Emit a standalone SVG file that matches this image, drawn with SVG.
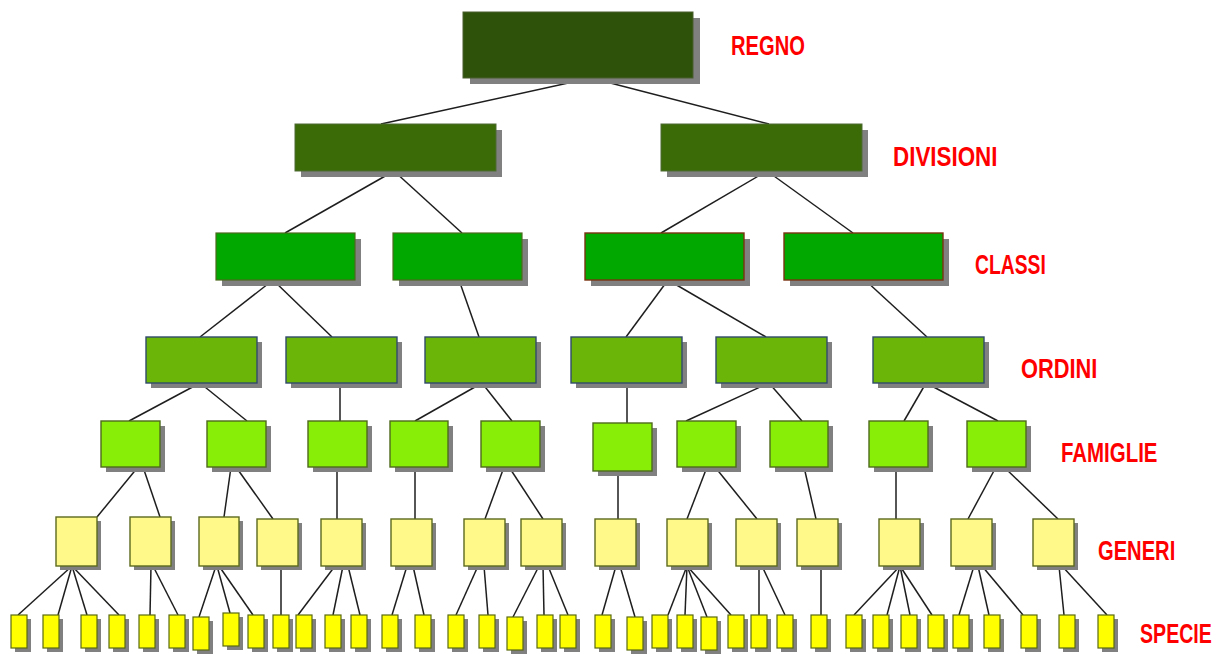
<svg xmlns="http://www.w3.org/2000/svg" width="1222" height="654" viewBox="0 0 1222 654">
  <style>
    .sh { fill: #808080; }
    .l0 { fill: #2f520a; stroke: #4a5e30; stroke-width: 1; }
    .l1 { fill: #3a6b07; stroke: #4f6a34; stroke-width: 1; }
    .l2 { fill: #00a800; stroke: #4e6a1e; stroke-width: 1.2; }
    .l2b { fill: #00a800; stroke: #7a3212; stroke-width: 1.4; }
    .l3 { fill: #6bb408; stroke: #2f4a6a; stroke-width: 1.4; }
    .l4 { fill: #88ee08; stroke: #4e6a1c; stroke-width: 1.4; }
    .l5 { fill: #fff98a; stroke: #5c6a1e; stroke-width: 1.4; }
    .l6 { fill: #ffff00; stroke: #5a6a10; stroke-width: 1.2; }
    #connectors line { stroke: #1e1e1e; stroke-width: 1.5; }
    .lbl { font-family: "Liberation Sans", Arial, sans-serif; font-weight: bold; font-size: 28px; fill: #ff0000; }
  </style>

  <!-- connectors between ranks -->
  <g id="connectors">
    <!-- regno -> divisioni -->
    <line x1="591" y1="78" x2="381" y2="124"/>
    <line x1="591" y1="78" x2="769" y2="124"/>
    <!-- divisioni -> classi -->
    <line x1="394" y1="171" x2="285" y2="233"/>
    <line x1="394" y1="171" x2="462" y2="233"/>
    <line x1="767" y1="171" x2="661" y2="233"/>
    <line x1="767" y1="171" x2="853" y2="233"/>
    <!-- classi -> ordini -->
    <line x1="273" y1="280" x2="200" y2="337"/>
    <line x1="273" y1="280" x2="332" y2="337"/>
    <line x1="459" y1="280" x2="479" y2="337"/>
    <line x1="668" y1="280" x2="626" y2="337"/>
    <line x1="668" y1="280" x2="766" y2="337"/>
    <line x1="865" y1="280" x2="927" y2="337"/>
    <!-- ordini -> famiglie -->
    <line x1="200" y1="383" x2="129" y2="421"/>
    <line x1="200" y1="383" x2="247" y2="421"/>
    <line x1="340" y1="383" x2="340" y2="421"/>
    <line x1="482" y1="383" x2="415" y2="421"/>
    <line x1="482" y1="383" x2="512" y2="421"/>
    <line x1="627" y1="383" x2="627" y2="423"/>
    <line x1="769" y1="383" x2="686" y2="421"/>
    <line x1="769" y1="383" x2="802" y2="421"/>
    <line x1="926" y1="383" x2="904" y2="421"/>
    <line x1="926" y1="383" x2="998" y2="421"/>
    <!-- famiglie -> generi -->
    <line x1="138" y1="467" x2="97" y2="517"/>
    <line x1="143" y1="467" x2="160" y2="517"/>
    <line x1="231" y1="467" x2="224" y2="517"/>
    <line x1="236" y1="467" x2="273" y2="519"/>
    <line x1="337" y1="467" x2="337" y2="519"/>
    <line x1="415" y1="467" x2="415" y2="519"/>
    <line x1="504" y1="467" x2="485" y2="519"/>
    <line x1="509" y1="467" x2="543" y2="519"/>
    <line x1="618" y1="471" x2="618" y2="519"/>
    <line x1="707" y1="467" x2="687" y2="519"/>
    <line x1="715" y1="467" x2="757" y2="519"/>
    <line x1="804" y1="467" x2="816" y2="519"/>
    <line x1="896" y1="467" x2="896" y2="519"/>
    <line x1="996" y1="467" x2="968" y2="519"/>
    <line x1="1004" y1="467" x2="1058" y2="519"/>
    <!-- generi -> specie -->
    <line x1="72" y1="566" x2="18" y2="615"/>
    <line x1="72" y1="566" x2="58" y2="615"/>
    <line x1="72" y1="566" x2="87" y2="615"/>
    <line x1="72" y1="566" x2="119" y2="615"/>
    <line x1="151" y1="566" x2="150" y2="615"/>
    <line x1="153" y1="566" x2="178" y2="615"/>
    <line x1="216" y1="566" x2="199" y2="617"/>
    <line x1="217" y1="566" x2="230" y2="613"/>
    <line x1="219" y1="566" x2="253" y2="615"/>
    <line x1="281" y1="566" x2="281" y2="615"/>
    <line x1="335" y1="566" x2="298" y2="615"/>
    <line x1="343" y1="566" x2="333" y2="615"/>
    <line x1="348" y1="566" x2="360" y2="615"/>
    <line x1="407" y1="566" x2="392" y2="615"/>
    <line x1="413" y1="566" x2="424" y2="615"/>
    <line x1="478" y1="566" x2="456" y2="615"/>
    <line x1="484" y1="566" x2="488" y2="615"/>
    <line x1="539" y1="566" x2="513" y2="617"/>
    <line x1="543" y1="566" x2="544" y2="615"/>
    <line x1="548" y1="566" x2="568" y2="615"/>
    <line x1="616" y1="566" x2="602" y2="615"/>
    <line x1="620" y1="566" x2="635" y2="617"/>
    <line x1="687" y1="566" x2="668" y2="615"/>
    <line x1="687" y1="566" x2="685" y2="615"/>
    <line x1="687" y1="566" x2="707" y2="617"/>
    <line x1="687" y1="566" x2="731" y2="615"/>
    <line x1="759" y1="566" x2="759" y2="615"/>
    <line x1="762" y1="566" x2="785" y2="615"/>
    <line x1="821" y1="566" x2="821" y2="615"/>
    <line x1="900" y1="566" x2="854" y2="615"/>
    <line x1="900" y1="566" x2="887" y2="615"/>
    <line x1="900" y1="566" x2="910" y2="615"/>
    <line x1="900" y1="566" x2="932" y2="615"/>
    <line x1="974" y1="566" x2="959" y2="615"/>
    <line x1="978" y1="566" x2="989" y2="615"/>
    <line x1="982" y1="566" x2="1023" y2="615"/>
    <line x1="1059" y1="566" x2="1064" y2="615"/>
    <line x1="1062" y1="566" x2="1107" y2="615"/>
  </g>

  <!-- regno -->
  <g id="regno"><rect class="sh" x="470" y="18" width="230" height="66"/><rect class="l0" x="463" y="12" width="230" height="66"/></g>

  <!-- divisioni -->
  <g id="div1"><rect class="sh" x="301" y="130" width="201" height="47"/><rect class="l1" x="295" y="124" width="201" height="47"/></g>
  <g id="div2"><rect class="sh" x="667" y="130" width="201" height="47"/><rect class="l1" x="661" y="124" width="201" height="47"/></g>

  <!-- classi -->
  <g id="cl1"><rect class="sh" x="222" y="239" width="139" height="47"/><rect class="l2" x="216" y="233" width="139" height="47"/></g>
  <g id="cl2"><rect class="sh" x="399" y="239" width="129" height="47"/><rect class="l2" x="393" y="233" width="129" height="47"/></g>
  <g id="cl3"><rect class="sh" x="591" y="239" width="159" height="47"/><rect class="l2b" x="585" y="233" width="159" height="47"/></g>
  <g id="cl4"><rect class="sh" x="790" y="239" width="159" height="47"/><rect class="l2b" x="784" y="233" width="159" height="47"/></g>

  <!-- ordini -->
  <g id="or1"><rect class="sh" x="151" y="342" width="111" height="46"/><rect class="l3" x="146" y="337" width="111" height="46"/></g>
  <g id="or2"><rect class="sh" x="291" y="342" width="111" height="46"/><rect class="l3" x="286" y="337" width="111" height="46"/></g>
  <g id="or3"><rect class="sh" x="430" y="342" width="111" height="46"/><rect class="l3" x="425" y="337" width="111" height="46"/></g>
  <g id="or4"><rect class="sh" x="576" y="342" width="111" height="46"/><rect class="l3" x="571" y="337" width="111" height="46"/></g>
  <g id="or5"><rect class="sh" x="721" y="342" width="111" height="46"/><rect class="l3" x="716" y="337" width="111" height="46"/></g>
  <g id="or6"><rect class="sh" x="878" y="342" width="111" height="46"/><rect class="l3" x="873" y="337" width="111" height="46"/></g>

  <!-- famiglie -->
  <g id="fa1"><rect class="sh" x="106" y="426" width="59" height="46"/><rect class="l4" x="101" y="421" width="59" height="46"/></g>
  <g id="fa2"><rect class="sh" x="212" y="426" width="59" height="46"/><rect class="l4" x="207" y="421" width="59" height="46"/></g>
  <g id="fa3"><rect class="sh" x="313" y="426" width="59" height="46"/><rect class="l4" x="308" y="421" width="59" height="46"/></g>
  <g id="fa4"><rect class="sh" x="395" y="426" width="58" height="46"/><rect class="l4" x="390" y="421" width="58" height="46"/></g>
  <g id="fa5"><rect class="sh" x="486" y="426" width="59" height="46"/><rect class="l4" x="481" y="421" width="59" height="46"/></g>
  <g id="fa6"><rect class="sh" x="598" y="428" width="59" height="48"/><rect class="l4" x="593" y="423" width="59" height="48"/></g>
  <g id="fa7"><rect class="sh" x="682" y="426" width="59" height="46"/><rect class="l4" x="677" y="421" width="59" height="46"/></g>
  <g id="fa8"><rect class="sh" x="775" y="426" width="58" height="46"/><rect class="l4" x="770" y="421" width="58" height="46"/></g>
  <g id="fa9"><rect class="sh" x="874" y="426" width="59" height="46"/><rect class="l4" x="869" y="421" width="59" height="46"/></g>
  <g id="fa10"><rect class="sh" x="972" y="426" width="59" height="46"/><rect class="l4" x="967" y="421" width="59" height="46"/></g>

  <!-- generi -->
  <g id="ge1"><rect class="sh" x="60" y="521" width="41" height="49"/><rect class="l5" x="56" y="517" width="41" height="49"/></g>
  <g id="ge2"><rect class="sh" x="134" y="521" width="41" height="49"/><rect class="l5" x="130" y="517" width="41" height="49"/></g>
  <g id="ge3"><rect class="sh" x="203" y="521" width="40" height="49"/><rect class="l5" x="199" y="517" width="40" height="49"/></g>
  <g id="ge4"><rect class="sh" x="261" y="523" width="41" height="47"/><rect class="l5" x="257" y="519" width="41" height="47"/></g>
  <g id="ge5"><rect class="sh" x="325" y="523" width="41" height="47"/><rect class="l5" x="321" y="519" width="41" height="47"/></g>
  <g id="ge6"><rect class="sh" x="395" y="523" width="41" height="47"/><rect class="l5" x="391" y="519" width="41" height="47"/></g>
  <g id="ge7"><rect class="sh" x="468" y="523" width="41" height="47"/><rect class="l5" x="464" y="519" width="41" height="47"/></g>
  <g id="ge8"><rect class="sh" x="525" y="523" width="41" height="47"/><rect class="l5" x="521" y="519" width="41" height="47"/></g>
  <g id="ge9"><rect class="sh" x="599" y="523" width="41" height="47"/><rect class="l5" x="595" y="519" width="41" height="47"/></g>
  <g id="ge10"><rect class="sh" x="671" y="523" width="41" height="47"/><rect class="l5" x="667" y="519" width="41" height="47"/></g>
  <g id="ge11"><rect class="sh" x="740" y="523" width="41" height="47"/><rect class="l5" x="736" y="519" width="41" height="47"/></g>
  <g id="ge12"><rect class="sh" x="801" y="523" width="41" height="47"/><rect class="l5" x="797" y="519" width="41" height="47"/></g>
  <g id="ge13"><rect class="sh" x="883" y="523" width="41" height="47"/><rect class="l5" x="879" y="519" width="41" height="47"/></g>
  <g id="ge14"><rect class="sh" x="955" y="523" width="41" height="47"/><rect class="l5" x="951" y="519" width="41" height="47"/></g>
  <g id="ge15"><rect class="sh" x="1037" y="523" width="41" height="47"/><rect class="l5" x="1033" y="519" width="41" height="47"/></g>

  <!-- specie -->
  <g id="sp1"><rect class="sh" x="15" y="619" width="16" height="33"/><rect class="l6" x="11" y="615" width="16" height="33"/></g>
  <g id="sp2"><rect class="sh" x="47" y="619" width="16" height="33"/><rect class="l6" x="43" y="615" width="16" height="33"/></g>
  <g id="sp3"><rect class="sh" x="85" y="619" width="16" height="33"/><rect class="l6" x="81" y="615" width="16" height="33"/></g>
  <g id="sp4"><rect class="sh" x="113" y="619" width="16" height="33"/><rect class="l6" x="109" y="615" width="16" height="33"/></g>
  <g id="sp5"><rect class="sh" x="143" y="619" width="16" height="33"/><rect class="l6" x="139" y="615" width="16" height="33"/></g>
  <g id="sp6"><rect class="sh" x="173" y="619" width="16" height="33"/><rect class="l6" x="169" y="615" width="16" height="33"/></g>
  <g id="sp7"><rect class="sh" x="197" y="621" width="16" height="33"/><rect class="l6" x="193" y="617" width="16" height="33"/></g>
  <g id="sp8"><rect class="sh" x="227" y="617" width="16" height="33"/><rect class="l6" x="223" y="613" width="16" height="33"/></g>
  <g id="sp9"><rect class="sh" x="252" y="619" width="16" height="33"/><rect class="l6" x="248" y="615" width="16" height="33"/></g>
  <g id="sp10"><rect class="sh" x="277" y="619" width="16" height="33"/><rect class="l6" x="273" y="615" width="16" height="33"/></g>
  <g id="sp11"><rect class="sh" x="300" y="619" width="16" height="33"/><rect class="l6" x="296" y="615" width="16" height="33"/></g>
  <g id="sp12"><rect class="sh" x="329" y="619" width="16" height="33"/><rect class="l6" x="325" y="615" width="16" height="33"/></g>
  <g id="sp13"><rect class="sh" x="355" y="619" width="16" height="33"/><rect class="l6" x="351" y="615" width="16" height="33"/></g>
  <g id="sp14"><rect class="sh" x="386" y="619" width="16" height="33"/><rect class="l6" x="382" y="615" width="16" height="33"/></g>
  <g id="sp15"><rect class="sh" x="419" y="619" width="16" height="33"/><rect class="l6" x="415" y="615" width="16" height="33"/></g>
  <g id="sp16"><rect class="sh" x="452" y="619" width="16" height="33"/><rect class="l6" x="448" y="615" width="16" height="33"/></g>
  <g id="sp17"><rect class="sh" x="483" y="619" width="16" height="33"/><rect class="l6" x="479" y="615" width="16" height="33"/></g>
  <g id="sp18"><rect class="sh" x="511" y="621" width="16" height="33"/><rect class="l6" x="507" y="617" width="16" height="33"/></g>
  <g id="sp19"><rect class="sh" x="541" y="619" width="16" height="33"/><rect class="l6" x="537" y="615" width="16" height="33"/></g>
  <g id="sp20"><rect class="sh" x="564" y="619" width="16" height="33"/><rect class="l6" x="560" y="615" width="16" height="33"/></g>
  <g id="sp21"><rect class="sh" x="599" y="619" width="16" height="33"/><rect class="l6" x="595" y="615" width="16" height="33"/></g>
  <g id="sp22"><rect class="sh" x="631" y="621" width="16" height="33"/><rect class="l6" x="627" y="617" width="16" height="33"/></g>
  <g id="sp23"><rect class="sh" x="656" y="619" width="16" height="33"/><rect class="l6" x="652" y="615" width="16" height="33"/></g>
  <g id="sp24"><rect class="sh" x="681" y="619" width="16" height="33"/><rect class="l6" x="677" y="615" width="16" height="33"/></g>
  <g id="sp25"><rect class="sh" x="705" y="621" width="16" height="33"/><rect class="l6" x="701" y="617" width="16" height="33"/></g>
  <g id="sp26"><rect class="sh" x="732" y="619" width="16" height="33"/><rect class="l6" x="728" y="615" width="16" height="33"/></g>
  <g id="sp27"><rect class="sh" x="755" y="619" width="16" height="33"/><rect class="l6" x="751" y="615" width="16" height="33"/></g>
  <g id="sp28"><rect class="sh" x="781" y="619" width="16" height="33"/><rect class="l6" x="777" y="615" width="16" height="33"/></g>
  <g id="sp29"><rect class="sh" x="815" y="619" width="16" height="33"/><rect class="l6" x="811" y="615" width="16" height="33"/></g>
  <g id="sp30"><rect class="sh" x="850" y="619" width="16" height="33"/><rect class="l6" x="846" y="615" width="16" height="33"/></g>
  <g id="sp31"><rect class="sh" x="877" y="619" width="16" height="33"/><rect class="l6" x="873" y="615" width="16" height="33"/></g>
  <g id="sp32"><rect class="sh" x="905" y="619" width="16" height="33"/><rect class="l6" x="901" y="615" width="16" height="33"/></g>
  <g id="sp33"><rect class="sh" x="932" y="619" width="16" height="33"/><rect class="l6" x="928" y="615" width="16" height="33"/></g>
  <g id="sp34"><rect class="sh" x="957" y="619" width="16" height="33"/><rect class="l6" x="953" y="615" width="16" height="33"/></g>
  <g id="sp35"><rect class="sh" x="988" y="619" width="16" height="33"/><rect class="l6" x="984" y="615" width="16" height="33"/></g>
  <g id="sp36"><rect class="sh" x="1025" y="619" width="16" height="33"/><rect class="l6" x="1021" y="615" width="16" height="33"/></g>
  <g id="sp37"><rect class="sh" x="1063" y="619" width="16" height="33"/><rect class="l6" x="1059" y="615" width="16" height="33"/></g>
  <g id="sp38"><rect class="sh" x="1102" y="619" width="16" height="33"/><rect class="l6" x="1098" y="615" width="16" height="33"/></g>

  <!-- rank labels, horizontally condensed -->
  <g id="labels">
    <text class="lbl" transform="translate(731,55) scale(0.72,1)">REGNO</text>
    <text class="lbl" transform="translate(893,166) scale(0.80,1)">DIVISIONI</text>
    <text class="lbl" transform="translate(975,274) scale(0.69,1)">CLASSI</text>
    <text class="lbl" transform="translate(1021,378) scale(0.78,1)">ORDINI</text>
    <text class="lbl" transform="translate(1061,462) scale(0.73,1)">FAMIGLIE</text>
    <text class="lbl" transform="translate(1098,560) scale(0.72,1)">GENERI</text>
    <text class="lbl" transform="translate(1140,643) scale(0.70,1)">SPECIE</text>
  </g>
</svg>
